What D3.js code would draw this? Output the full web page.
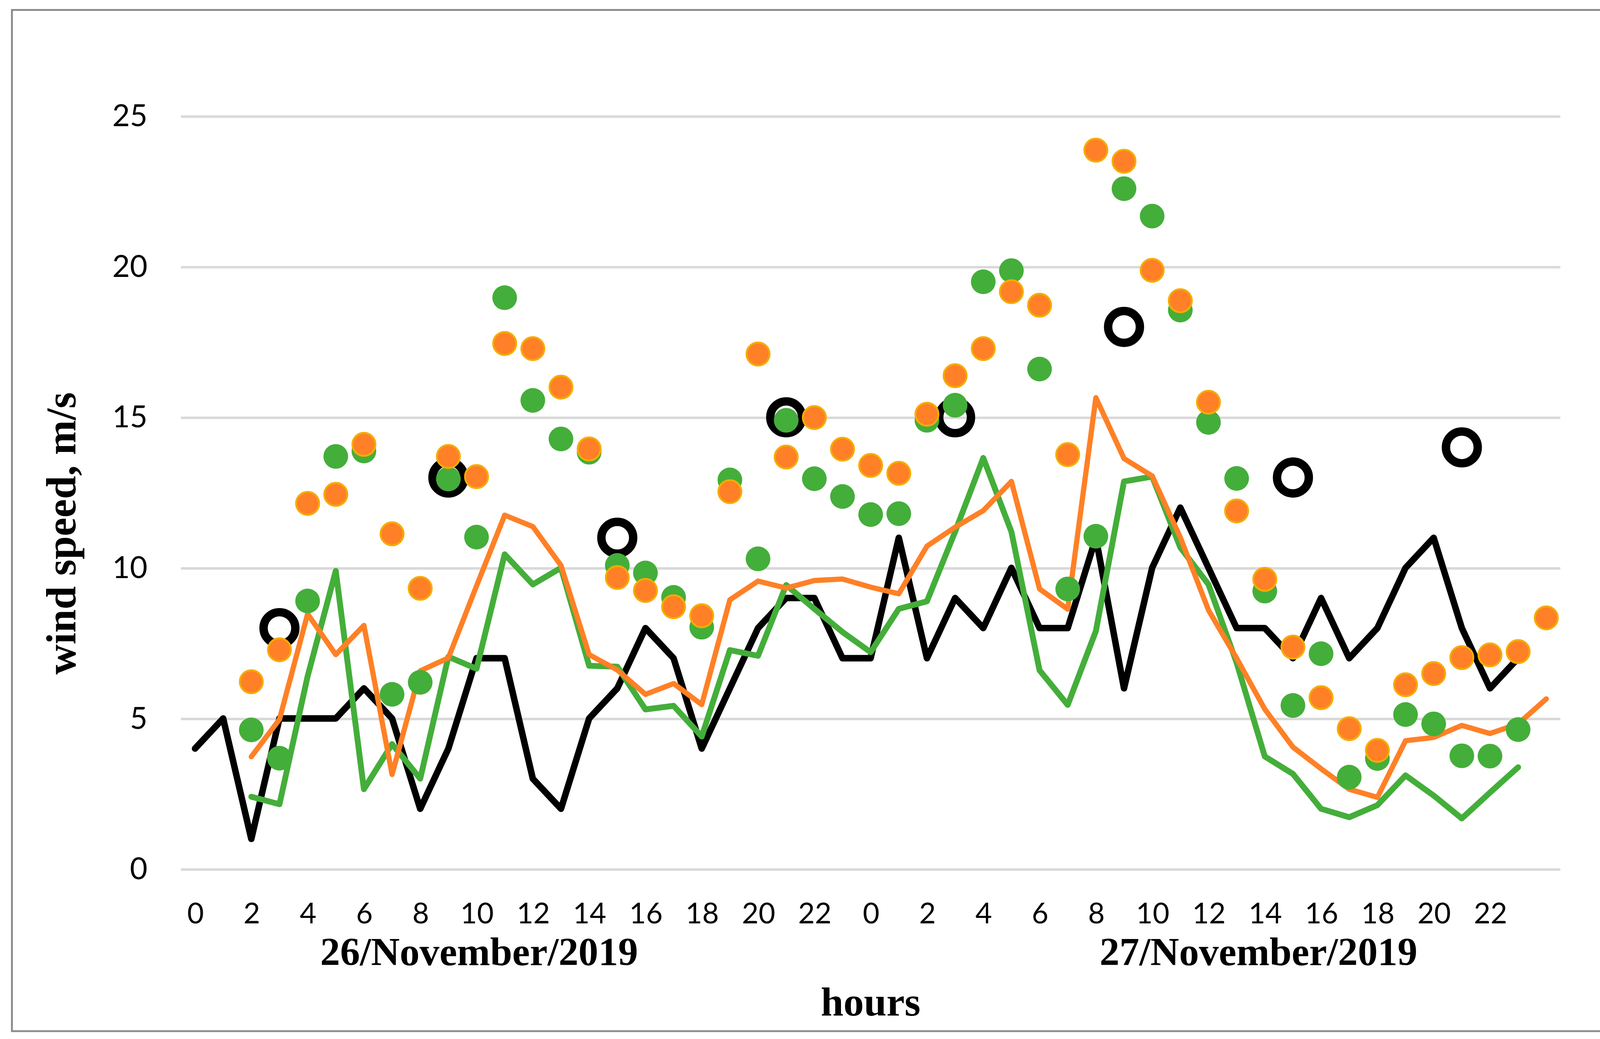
<!DOCTYPE html>
<html>
<head>
<meta charset="utf-8">
<script src="https://cdn.jsdelivr.net/npm/d3@7"></script>
<style>
  html, body { margin: 0; padding: 0; background: #fff; }
  svg { display: block; }
</style>
</head>
<body>
<svg id="chart" width="4198" height="2660" viewBox="0 0 1568 993.5"></svg>
<script>
// hours of the two days, one category per hour (last one has no label)
const hourLabels = ["0","1","2","3","4","5","6","7","8","9","10","11","12","13","14","15","16","17","18","19","20","21","22","23",
                    "0","1","2","3","4","5","6","7","8","9","10","11","12","13","14","15","16","17","18","19","20","21","22","23",""];
const dayLabels = ["26/November/2019", "27/November/2019"];
const yTicks = [0, 5, 10, 15, 20, 25];

// black line
const blackLine = [4,5,1,5,5,5,6,5,2,4,7,7,3,2,5,6,8,7,4,6,8,9,9,7,7,11,7,9,8,10,8,8,11,6,10,12,10,8,8,7,9,7,8,10,11,8,6,7,null];
// green line
const greenLine = [null,null,2.4,2.15,6.4,9.9,2.65,4.15,3.0,7.05,6.65,10.45,9.45,10.0,6.75,6.72,5.3,5.42,4.4,7.27,7.08,9.43,8.64,7.87,7.2,8.64,8.89,11.2,13.65,11.2,6.6,5.45,7.9,12.87,13.03,10.68,9.45,6.85,3.74,3.16,2.0,1.72,2.12,3.11,2.44,1.68,2.54,3.38,null];
// orange line
const orangeLine = [null,null,3.73,4.97,8.47,7.12,8.09,3.14,6.58,7.01,9.4,11.75,11.37,10.08,7.12,6.61,5.8,6.16,5.46,8.94,9.56,9.33,9.58,9.63,9.36,9.14,10.72,11.35,11.9,12.87,9.3,8.63,15.65,13.63,13.05,11.01,8.6,7.0,5.31,4.05,3.33,2.65,2.38,4.26,4.37,4.77,4.5,4.82,5.65];
// open black circles (every 6 hours)
const ringHours = [3, 9, 15, 21, 27, 33, 39, 45];
const ringValues = [8, 13, 11, 15, 15, 18, 13, 14];
// green dots
const greenDots = [null,null,4.62,3.68,8.9,13.7,13.88,5.8,6.2,12.95,11.02,18.97,15.56,14.28,13.84,10.08,9.83,9.02,8.03,12.92,10.3,14.9,12.96,12.37,11.77,11.8,14.9,15.4,19.5,19.87,16.6,9.3,11.05,22.59,21.68,18.56,14.83,12.97,9.23,5.43,7.15,3.05,3.67,5.13,4.82,3.76,3.75,4.63,null];
// orange dots
const orangeDots = [null,null,6.22,7.28,12.14,12.44,14.1,11.13,9.32,13.7,13.03,17.45,17.28,16.0,13.95,9.68,9.25,8.71,8.41,12.53,17.1,13.68,14.99,13.94,13.4,13.14,15.1,16.38,17.28,19.17,18.72,13.76,23.87,23.5,19.88,18.87,15.5,11.89,9.62,7.37,5.69,4.66,3.94,6.12,6.49,7.02,7.11,7.22,8.34];

const svg = d3.select("#chart");
const plot = {left: 173, right: 1492, top: 111, bottom: 831};

const green = "#44AE3A", orange = "#FF8026", orangeEdge = "#F5AC00";

// outer frame
svg.append("rect")
  .attr("x", 11.4).attr("y", 9.5)
  .attr("width", 1548.6).attr("height", 976.5)
  .attr("fill", "#fff")
  .attr("stroke", "#8C8C8C").attr("stroke-width", 1.8);

const x = d3.scalePoint()
  .domain(d3.range(hourLabels.length))
  .range([plot.left, plot.right])
  .padding(0.5);

const y = d3.scaleLinear()
  .domain([0, 25])
  .range([plot.bottom, plot.top]);

// y axis + gridlines
const yAxis = svg.append("g")
  .attr("transform", `translate(${plot.left},0)`)
  .call(d3.axisLeft(y).tickValues(yTicks).tickSize(-(plot.right - plot.left)).tickPadding(32));
yAxis.select(".domain").remove();
yAxis.selectAll(".tick line").attr("stroke", "#D9D9D9").attr("stroke-width", 2.4);
yAxis.selectAll(".tick text")
  .attr("font-family", "Lato, 'Open Sans', sans-serif")
  .attr("font-size", 29).attr("fill", "#000");

// x axis, label every 2 hours
const xAxis = svg.append("g")
  .attr("transform", `translate(0,${plot.bottom})`)
  .call(d3.axisBottom(x)
    .tickValues(x.domain().filter(i => i % 2 === 0))
    .tickFormat(i => hourLabels[i])
    .tickSize(0));
xAxis.select(".domain").remove();
xAxis.selectAll(".tick text")
  .attr("y", 52).attr("dy", null)
  .attr("font-family", "Lato, 'Open Sans', sans-serif")
  .attr("font-size", 27.5).attr("fill", "#000");

const serif = "'Liberation Serif', 'Times New Roman', serif";

// day labels
svg.selectAll(".day")
  .data(dayLabels)
  .enter().append("text")
    .attr("class", "day")
    .attr("x", (d, i) => i === 0 ? x(10) + 2.5 : x(38) - 6)
    .attr("y", 923)
    .attr("text-anchor", "middle")
    .attr("font-family", serif).attr("font-weight", "bold")
    .attr("font-size", 38)
    .text(d => d);

// axis titles
svg.append("text")
  .attr("x", (plot.left + plot.right) / 2)
  .attr("y", 971)
  .attr("text-anchor", "middle")
  .attr("font-family", serif).attr("font-weight", "bold")
  .attr("font-size", 39)
  .text("hours");

svg.append("text")
  .attr("transform", `translate(72,${(plot.top + plot.bottom) / 2 + 39}) rotate(-90)`)
  .attr("text-anchor", "middle")
  .attr("font-family", serif).attr("font-weight", "bold")
  .attr("font-size", 40)
  .text("wind speed, m/s");

// lines
const line = d3.line()
  .defined(d => d != null)
  .x((d, i) => x(i))
  .y(d => y(d));

[[blackLine, "#000", 6.2], [greenLine, green, 5.6], [orangeLine, orange, 5.0]].forEach(([data, color, w]) => {
  svg.append("path")
    .datum(data)
    .attr("d", line)
    .attr("fill", "none")
    .attr("stroke", color)
    .attr("stroke-width", w)
    .attr("stroke-linejoin", "round")
    .attr("stroke-linecap", "round");
});

// open circles
svg.append("g").selectAll("circle")
  .data(ringHours)
  .enter().append("circle")
    .attr("cx", h => x(h))
    .attr("cy", (h, i) => y(ringValues[i]))
    .attr("r", 15.2)
    .attr("fill", "none")
    .attr("stroke", "#000")
    .attr("stroke-width", 8);

// green dots
svg.append("g").selectAll("circle")
  .data(greenDots.map((v, i) => ({i, v})).filter(d => d.v != null))
  .enter().append("circle")
    .attr("cx", d => x(d.i))
    .attr("cy", d => y(d.v))
    .attr("r", 11.8)
    .attr("fill", green);

// orange dots
svg.append("g").selectAll("circle")
  .data(orangeDots.map((v, i) => ({i, v})).filter(d => d.v != null))
  .enter().append("circle")
    .attr("cx", d => x(d.i))
    .attr("cy", d => y(d.v))
    .attr("r", 11)
    .attr("fill", orange)
    .attr("stroke", orangeEdge)
    .attr("stroke-width", 1.8);
</script>
</body>
</html>
